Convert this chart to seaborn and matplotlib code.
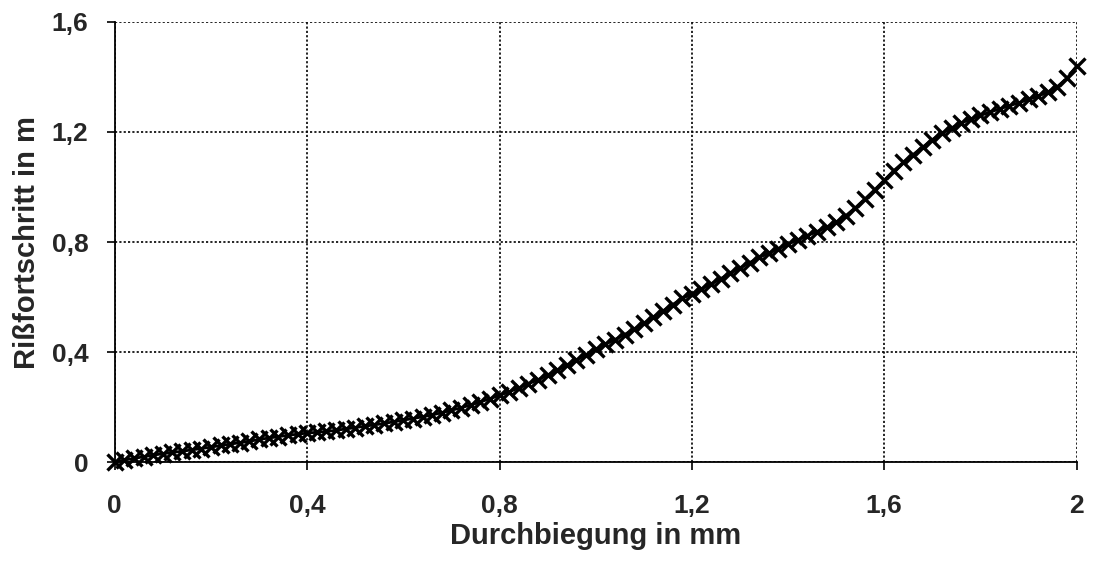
import numpy as np
import pandas as pd
import matplotlib
matplotlib.use("Agg")
import matplotlib.pyplot as plt
import seaborn as sns

# Durchbiegung (mm)
durchbiegung = [
    0.00, 0.02, 0.04, 0.06, 0.08, 0.10, 0.12, 0.14, 0.16, 0.18,
    0.20, 0.22, 0.24, 0.26, 0.28, 0.30, 0.32, 0.34, 0.36, 0.38,
    0.40, 0.42, 0.44, 0.46, 0.48, 0.50, 0.52, 0.54, 0.56, 0.58,
    0.60, 0.62, 0.64, 0.66, 0.68, 0.70, 0.72, 0.74, 0.76, 0.78,
    0.80, 0.82, 0.84, 0.86, 0.88, 0.90, 0.92, 0.94, 0.96, 0.98,
    1.00, 1.02, 1.04, 1.06, 1.08, 1.10, 1.12, 1.14, 1.16, 1.18,
    1.20, 1.22, 1.24, 1.26, 1.28, 1.30, 1.32, 1.34, 1.36, 1.38,
    1.40, 1.42, 1.44, 1.46, 1.48, 1.50, 1.52, 1.54, 1.56, 1.58,
    1.60, 1.62, 1.64, 1.66, 1.68, 1.70, 1.72, 1.74, 1.76, 1.78,
    1.80, 1.82, 1.84, 1.86, 1.88, 1.90, 1.92, 1.94, 1.96, 1.98,
    2.00,
]

# Rissfortschritt (m)
rissfortschritt = [
    0.000, 0.008, 0.014, 0.020, 0.026, 0.031, 0.036, 0.040, 0.045, 0.050,
    0.055, 0.061, 0.066, 0.071, 0.076, 0.083, 0.088, 0.093, 0.098, 0.102,
    0.106, 0.109, 0.112, 0.116, 0.121, 0.126, 0.131, 0.136, 0.141, 0.147,
    0.153, 0.159, 0.165, 0.172, 0.180, 0.189, 0.198, 0.208, 0.219, 0.231,
    0.243, 0.256, 0.270, 0.285, 0.300, 0.317, 0.334, 0.352, 0.371, 0.391,
    0.410, 0.428, 0.446, 0.464, 0.484, 0.505, 0.528, 0.550, 0.573, 0.595,
    0.612, 0.630, 0.648, 0.667, 0.687, 0.706, 0.725, 0.744, 0.760, 0.776,
    0.792, 0.808, 0.823, 0.838, 0.854, 0.872, 0.896, 0.925, 0.957, 0.990,
    1.025, 1.060, 1.090, 1.118, 1.145, 1.172, 1.195, 1.215, 1.232, 1.247,
    1.260, 1.272, 1.284, 1.295, 1.306, 1.318, 1.330, 1.345, 1.365, 1.395,
    1.440,
]

x_ticks = [0, 0.4, 0.8, 1.2, 1.6, 2.0]
x_ticklabels = ["0", "0,4", "0,8", "1,2", "1,6", "2"]
y_ticks = [0, 0.4, 0.8, 1.2, 1.6]
y_ticklabels = ["0", "0,4", "0,8", "1,2", "1,6"]

x_label = "Durchbiegung in mm"
y_label = "Rißfortschritt in m"

sns.set_style("white")
plt.rcParams["font.family"] = ["Liberation Sans", "DejaVu Sans"]
plt.rcParams["font.weight"] = "bold"

df = pd.DataFrame({"x": durchbiegung, "y": rissfortschritt})

fig = plt.figure(figsize=(10.93, 5.61), dpi=100)
ax = fig.add_axes([0.105, 0.176, 0.880, 0.785])

sns.lineplot(data=df, x="x", y="y", ax=ax, color="black", linewidth=2.0,
             marker="x", markersize=11, markeredgewidth=2.4,
             markeredgecolor="black", clip_on=False, zorder=5)

ax.set_xlim(0, 2)
ax.set_ylim(0, 1.6)
ax.set_xticks(x_ticks)
ax.set_xticklabels(x_ticklabels, fontsize=19, fontweight="bold")
ax.set_yticks(y_ticks)
ax.set_yticklabels(y_ticklabels, fontsize=19, fontweight="bold")

ax.grid(True, color="black", linestyle=(0, (1.3, 1.3)), linewidth=1.2)
ax.set_axisbelow(True)

for side in ["top", "right"]:
    ax.spines[side].set_visible(False)
for side in ["left", "bottom"]:
    ax.spines[side].set_color("black")
    ax.spines[side].set_linewidth(1.3)

ax.tick_params(axis="both", direction="out", length=6, width=1.2,
               color="black", bottom=True, left=True)
ax.tick_params(axis="x", pad=17)
ax.tick_params(axis="y", pad=13)

ax.set_xlabel(x_label, fontsize=21, fontweight="bold", labelpad=3)
ax.set_ylabel(y_label, fontsize=21, fontweight="bold", labelpad=8)

fig.savefig("out.png", dpi=100, facecolor="white")
